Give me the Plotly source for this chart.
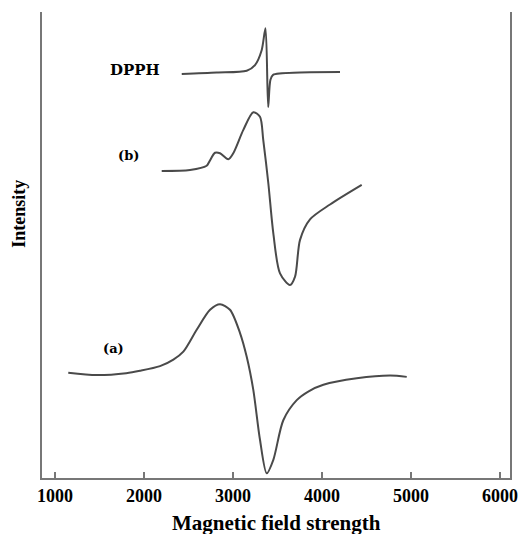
import plotly.graph_objects as go

# Magnetic field (G) and intensity (arb. units)
a_field = [1149, 1469, 1800, 1955, 2180, 2330, 2442, 2592, 2742, 2854, 2966, 3079, 3154,
           3228, 3303, 3379, 3453, 3565, 3716, 3850, 4015, 4390, 4764, 4952]
a_int = [22.6, 22.1, 22.5, 23.0, 24.0, 25.4, 27.1, 31.8, 36.1, 37.3, 36.1, 31.1, 26.0,
         18.9, 8.2, 1.0, 3.9, 12.4, 16.7, 18.6, 20.0, 21.4, 22.0, 21.7]

b_field = [2199, 2517, 2704, 2734, 2798, 2854, 2947, 3003, 3116, 3228, 3303,
           3340, 3397, 3453, 3528, 3640, 3697, 3753, 3865, 4090, 4446]
b_int = [65.9, 66.1, 67.0, 67.9, 69.8, 69.7, 68.4, 69.7, 74.7, 78.5, 77.5,
         72.5, 63.2, 52.5, 43.9, 41.4, 43.2, 51.1, 55.5, 58.7, 62.9]

dpph_field = [2424, 2817, 3154, 3247, 3322, 3365, 3395, 3420, 3450, 3753, 4202]
dpph_int = [86.7, 87.0, 87.4, 88.6, 91.8, 96.5, 79.6, 85.4, 86.5, 87.0, 87.1]

x_ticks = [1000, 2000, 3000, 4000, 5000, 6000]
labels = [("DPPH", 1899, 87.6), ("(b)", 1831, 69.3), ("(a)", 1652, 27.7)]

line_style = dict(color="#4a4a4a", width=2, shape="spline", smoothing=0.8)

fig = go.Figure()
for xs, ys, nm in [(a_field, a_int, "(a)"), (b_field, b_int, "(b)"),
                   (dpph_field, dpph_int, "DPPH")]:
    fig.add_trace(go.Scatter(x=xs, y=ys, mode="lines", name=nm, line=line_style,
                             hoverinfo="skip"))

for txt, xv, yv in labels:
    fig.add_annotation(x=xv, y=yv, text=txt, showarrow=False,
                       font=dict(family="DejaVu Serif", size=15 if txt == "DPPH" else 13,
                                 color="black", weight="bold"))

fig.add_annotation(xref="paper", yref="paper", x=-0.049, y=0.567,
                   text="Intensity", textangle=-90, showarrow=False,
                   xanchor="center", yanchor="middle",
                   font=dict(family="Liberation Serif", size=18, color="black",
                             weight="bold"))
fig.add_annotation(xref="paper", yref="paper", x=0.5, y=-0.096,
                   text="Magnetic field strength", showarrow=False,
                   yanchor="middle",
                   font=dict(family="Liberation Serif", size=21, color="black",
                             weight="bold"))

# page body has an 8px margin; figure is sized/offset to compensate
fig.update_layout(
    width=518, height=526,
    margin=dict(l=34, r=16, t=4, b=56),
    paper_bgcolor="white", plot_bgcolor="white",
    showlegend=False,
    xaxis=dict(range=[854, 6112], tickvals=x_ticks, ticks="inside", ticklen=6,
               tickwidth=1.5, tickcolor="#777", showline=True, linecolor="#777",
               linewidth=2, showgrid=False, zeroline=False,
               tickfont=dict(family="Liberation Serif", size=18, color="black",
                             weight="bold")),
    yaxis=dict(range=[0, 100], showticklabels=False, ticks="", showline=True,
               mirror=True, linecolor="#777", linewidth=2, showgrid=False,
               zeroline=False),
)

fig.write_html("out.html")
